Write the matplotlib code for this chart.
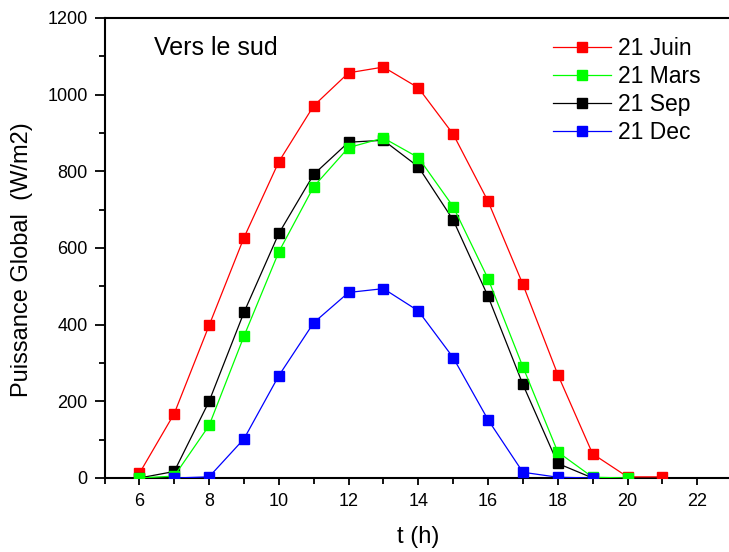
import matplotlib
matplotlib.use("Agg")
from matplotlib import pyplot as plt
from matplotlib.ticker import MultipleLocator

plt.rcParams["font.family"] = ["Liberation Sans", "DejaVu Sans"]

# hours of the day
hours_juin = [6, 7, 8, 9, 10, 11, 12, 13, 14, 15, 16, 17, 18, 19, 20, 21]
juin = [12, 168, 398, 627, 825, 971, 1057, 1072, 1018, 897, 722, 505, 270, 63, 3, 3]

hours_mars = [6, 7, 8, 9, 10, 11, 12, 13, 14, 15, 16, 17, 18, 19, 20]
mars = [0, 5, 137, 370, 590, 760, 862, 887, 836, 708, 520, 290, 68, 2, 0]

hours_sep = [6, 7, 8, 9, 10, 11, 12, 13, 14, 15, 16, 17, 18, 19]
sep = [0, 17, 200, 432, 638, 792, 876, 881, 812, 673, 474, 244, 38, 0]

hours_dec = [7, 8, 9, 10, 11, 12, 13, 14, 15, 16, 17, 18, 19]
dec = [0, 3, 102, 267, 405, 484, 494, 436, 314, 152, 15, 2, 0]

series = [
    ("21 Juin", hours_juin, juin, "#ff0000", 3),
    ("21 Mars", hours_mars, mars, "#00ff00", 5),
    ("21 Sep", hours_sep, sep, "#000000", 4),
    ("21 Dec", hours_dec, dec, "#0000ff", 6),
]

fig = plt.figure(figsize=(7.29, 5.52), dpi=100)
# axes runs a little past the right edge of the picture, as in the original
ax = fig.add_axes([104.5 / 729, 74 / 552, 627.6 / 729, 460 / 552])

for label, x, y, color, z in series:
    ax.plot(x, y, color=color, lw=0.9, marker="s", ms=7, mfc=color, mec=color,
            label=label, zorder=z)

ax.set_xlim(5, 23)
ax.set_ylim(0, 1200)
ax.xaxis.set_major_locator(MultipleLocator(2))
ax.xaxis.set_minor_locator(MultipleLocator(1))
ax.yaxis.set_major_locator(MultipleLocator(200))
ax.yaxis.set_minor_locator(MultipleLocator(100))

for s in ["left", "bottom", "top"]:
    ax.spines[s].set_linewidth(1.5)
ax.spines["right"].set_visible(False)

ax.tick_params(axis="x", which="major", direction="out", length=5, width=1.3,
               labelsize=13, pad=6)
ax.tick_params(axis="x", which="minor", direction="out", length=4, width=1.3)
ax.tick_params(axis="y", which="major", direction="out", length=7, width=1.3,
               labelsize=13, pad=5)
ax.tick_params(axis="y", which="minor", direction="out", length=4, width=1.3)

ax.set_xlabel("t (h)", fontsize=17, labelpad=11)
ax.set_ylabel("Puissance Global  (W/m2)", fontsize=17)
ax.yaxis.set_label_coords(-0.1145, 0.474)

ax.text(0.0795, 0.935, "Vers le sud", transform=ax.transAxes, fontsize=18,
        va="center", ha="left")

leg = ax.legend(loc="upper left", bbox_to_anchor=(0.7008, 0.978), frameon=False,
                fontsize=16.5, handlelength=2.53, handletextpad=0.3,
                labelspacing=0.22, borderaxespad=0)

fig.savefig("out.png", dpi=100)
